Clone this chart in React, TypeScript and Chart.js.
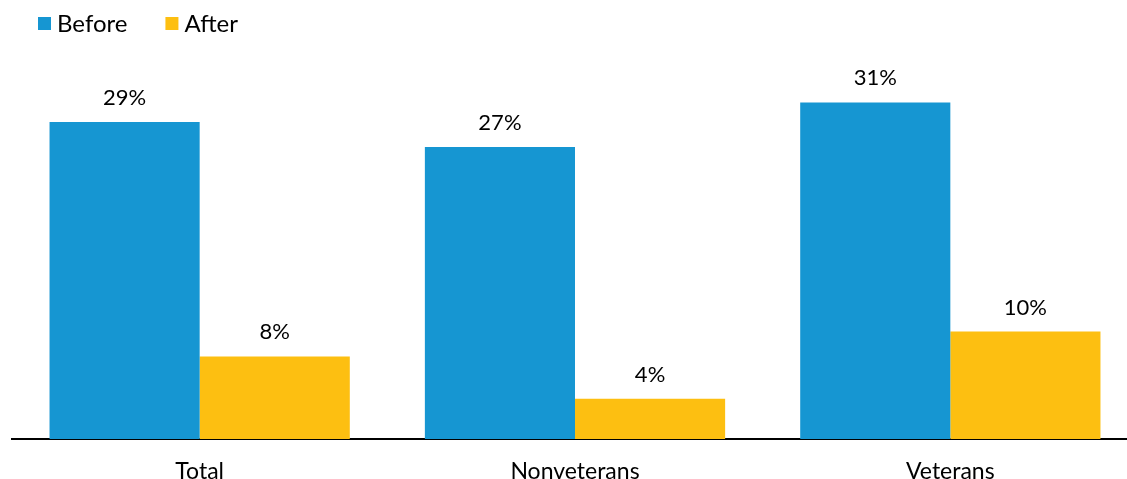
import React, { useEffect, useRef } from "react";
import { Chart, registerables } from "chart.js";

Chart.register(...registerables);

const categories = ["Total", "Nonveterans", "Veterans"];
const beforeValues = [29.2, 26.9, 31.0];
const afterValues = [7.6, 3.7, 9.9];
const seriesNames = ["Before", "After"];
const seriesColors = ["#1696d2", "#fdbf11"];
const yMax = 35;

const FONT = "Lato, 'Open Sans', sans-serif";

const dataLabelPlugin = {
  id: "dataLabels",
  afterDatasetsDraw(chart: any) {
    const ctx = chart.ctx;
    ctx.save();
    ctx.font = `22px ${FONT}`;
    ctx.fillStyle = "#000";
    ctx.textAlign = "center";
    ctx.textBaseline = "alphabetic";
    chart.data.datasets.forEach((ds: any, di: number) => {
      const meta = chart.getDatasetMeta(di);
      meta.data.forEach((bar: any, i: number) => {
        const v = ds.data[i];
        ctx.fillText(`${Math.round(v)}%`, bar.x, bar.y - 17);
      });
    });
    ctx.restore();
  },
};

const legendPlugin = {
  id: "customLegend",
  afterDraw(chart: any) {
    const ctx = chart.ctx;
    ctx.save();
    ctx.font = `24px ${FONT}`;
    ctx.textBaseline = "alphabetic";
    ctx.textAlign = "left";
    let x = 38;
    chart.data.datasets.forEach((ds: any) => {
      ctx.fillStyle = ds.backgroundColor;
      ctx.fillRect(x, 17, 13, 13);
      ctx.fillStyle = "#000";
      ctx.fillText(ds.label, x + 19, 32);
      x += 19 + ctx.measureText(ds.label).width + 38;
    });
    ctx.restore();
  },
};

export default function App() {
  const ref = useRef<HTMLCanvasElement>(null);
  useEffect(() => {
    if (!ref.current) return;
    const chart = new Chart(ref.current, {
      type: "bar",
      data: {
        labels: categories,
        datasets: [
          { label: seriesNames[0], data: beforeValues, backgroundColor: seriesColors[0] },
          { label: seriesNames[1], data: afterValues, backgroundColor: seriesColors[1] },
        ],
      },
      options: {
        responsive: false,
        animation: false,
        layout: { padding: { left: 12, right: 2, top: 59, bottom: 0 } },
        datasets: { bar: { categoryPercentage: 0.8, barPercentage: 1.0 } },
        plugins: {
          legend: { display: false },
          tooltip: { enabled: false },
        },
        scales: {
          x: {
            grid: { display: false, drawTicks: false },
            border: { display: true, color: "#000", width: 2 },
            ticks: {
              color: "#000",
              font: { family: FONT, size: 23 },
              padding: 19,
            },
            afterFit: (scale: any) => {
              scale.height = 40;
            },
          },
          y: {
            display: false,
            min: 0,
            max: yMax,
          },
        },
      },
      plugins: [dataLabelPlugin, legendPlugin],
    });
    return () => chart.destroy();
  }, []);
  return (
    <div
      style={{
        position: "fixed",
        left: 0,
        top: 0,
        width: 1127,
        height: 479,
        overflow: "hidden",
        background: "#fff",
      }}
    >
      <canvas ref={ref} width={1140} height={479} style={{ display: "block" }} />
    </div>
  );
}
